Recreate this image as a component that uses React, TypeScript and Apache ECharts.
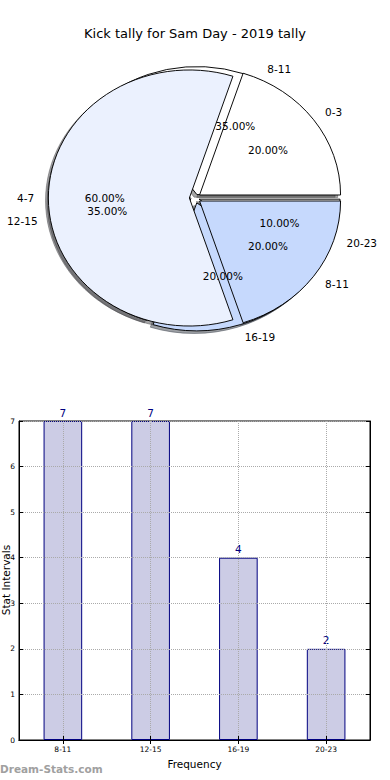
import React, { useEffect, useRef } from "react";
import * as echarts from "echarts";

// ---- data ----
const titleText = "Kick tally for Sam Day - 2019 tally";
const pieTopCats = ["0-3", "4-7", "8-11"];
const pieTopValues = [20, 60, 20];
const pieUnderCats = ["8-11", "12-15", "16-19", "20-23"];
const pieUnderValues = [7, 7, 4, 2];
const barCats = ["8-11", "12-15", "16-19", "20-23"];
const barValues = [7, 7, 4, 2];
const yTicks = [0, 1, 2, 3, 4, 5, 6, 7];
const xAxisName = "Frequency";
const yAxisName = "Stat Intervals";
const watermark = "Dream-Stats.com";

// ---- layout / style ----
const FONT = "DejaVu Sans";
const CX = 195;
const CY = 198;
const RX = 141;
const RY = 128;
const PIE_COLORS = ["#ffffff", "#ebf1fe", "#c6d9fd"];
const TOP_EXPLODE = [0.04, 0.04, 0.04];
const UNDER_EXPLODE = [0.03, 0.03, 0.04, 0.03];

type Geom = { a0: number; a1: number; mid: number; ox: number; oy: number; frac: number };

function geometry(values: number[], explode: number[]): Geom[] {
  const total = values.reduce((s, v) => s + v, 0);
  let acc = 0;
  return values.map((v, i) => {
    const a0 = (acc / total) * Math.PI * 2;
    acc += v;
    const a1 = (acc / total) * Math.PI * 2;
    const mid = (a0 + a1) / 2;
    const e = explode[i] || 0;
    return { a0, a1, mid, ox: e * RX * Math.cos(mid), oy: -e * RY * Math.sin(mid), frac: v / total };
  });
}

function shadeColor(hex: string) {
  const r = parseInt(hex.slice(1, 3), 16) * 0.3;
  const g = parseInt(hex.slice(3, 5), 16) * 0.3;
  const b = parseInt(hex.slice(5, 7), 16) * 0.3;
  return `rgba(${Math.round(r)},${Math.round(g)},${Math.round(b)},0.5)`;
}

function sectorEl(g: Geom, fill: string, stroke: string, dx = 0, dy = 0) {
  return {
    type: "sector",
    x: CX + g.ox + dx,
    y: CY + g.oy + dy,
    scaleX: 1,
    scaleY: RY / RX,
    shape: { cx: 0, cy: 0, r: RX, r0: 0, startAngle: -g.a0, endAngle: -g.a1, clockwise: false },
    style: { fill, stroke, lineWidth: 1 },
  };
}

function wedgeSeries(values: number[], explode: number[], z: number) {
  const geo = geometry(values, explode);
  return {
    type: "custom",
    coordinateSystem: "none",
    z,
    silent: true,
    data: values,
    renderItem: (params: any) => {
      const g = geo[params.dataIndex];
      return sectorEl(g, PIE_COLORS[params.dataIndex % PIE_COLORS.length], "#000");
    },
  };
}

function shadowSeries(values: number[], explode: number[]) {
  const geo = geometry(values, explode);
  return {
    type: "custom",
    coordinateSystem: "none",
    z: 1,
    silent: true,
    data: values,
    renderItem: (params: any) => {
      const g = geo[params.dataIndex];
      const c = shadeColor(PIE_COLORS[params.dataIndex % PIE_COLORS.length]);
      return sectorEl(g, c, c, -0.02 * RX, 0.02 * RY);
    },
  };
}

function labelSeries(values: number[], cats: string[], explode: number[]) {
  const geo = geometry(values, explode);
  return {
    type: "custom",
    coordinateSystem: "none",
    z: 6,
    silent: true,
    data: values,
    renderItem: (params: any) => {
      const g = geo[params.dataIndex];
      const c = Math.cos(g.mid);
      const s = Math.sin(g.mid);
      const lx = CX + g.ox + 1.1 * RX * c;
      const ly = CY + g.oy - 1.1 * RY * s;
      const px = CX + g.ox + 0.6 * RX * c;
      const py = CY + g.oy - 0.6 * RY * s;
      return {
        type: "group",
        children: [
          {
            type: "text",
            x: lx,
            y: ly,
            style: {
              text: cats[params.dataIndex],
              fill: "#000",
              fontSize: 10.5,
              fontFamily: FONT,
              align: c > 0 ? "left" : "right",
              verticalAlign: "middle",
            },
          },
          {
            type: "text",
            x: px,
            y: py,
            style: {
              text: (g.frac * 100).toFixed(2) + "%",
              fill: "#000",
              fontSize: 10.5,
              fontFamily: FONT,
              align: "center",
              verticalAlign: "middle",
            },
          },
        ],
      };
    },
  };
}

export default function App() {
  const ref = useRef<HTMLDivElement>(null);
  useEffect(() => {
    if (!ref.current) return;
    const chart = echarts.init(ref.current, undefined, { renderer: "svg" });
    const axisLineStyle = { color: "#000", width: 1 };
    const gridLine = { show: true, lineStyle: { type: "dotted", color: "#aaaaaa", width: 1 } };
    chart.setOption({
      animation: false,
      backgroundColor: "#fff",
      textStyle: { fontFamily: FONT },
      title: {
        text: titleText,
        left: "center",
        top: 22,
        textStyle: { fontSize: 13, fontWeight: "normal", color: "#000", fontFamily: FONT },
      },
      grid: {
        left: 19,
        right: 20,
        top: 421,
        bottom: 40,
        show: true,
        borderColor: "#000",
        borderWidth: 1,
        containLabel: false,
        outerBoundsMode: "none",
      },
      xAxis: [
        {
          type: "category",
          data: barCats,
          position: "bottom",
          z: 4,
          axisLine: { show: true, lineStyle: axisLineStyle },
          axisTick: { show: true, inside: true, alignWithLabel: true, length: 4, lineStyle: axisLineStyle },
          axisLabel: { fontSize: 7.5, color: "#000", margin: 5, fontFamily: FONT },
          splitLine: { ...gridLine, alignWithLabel: true },
          name: xAxisName,
          nameLocation: "middle",
          nameGap: 18,
          nameTextStyle: { fontSize: 10.5, color: "#000", fontFamily: FONT },
        },
        {
          type: "category",
          data: barCats,
          position: "top",
          z: 4,
          axisLine: { show: true, lineStyle: axisLineStyle },
          axisTick: { show: true, inside: true, alignWithLabel: true, length: 4, lineStyle: axisLineStyle },
          axisLabel: { show: false },
          splitLine: { show: false },
        },
      ],
      yAxis: [
        {
          type: "value",
          min: yTicks[0],
          max: yTicks[yTicks.length - 1],
          interval: 1,
          z: 4,
          axisLine: { show: true, lineStyle: axisLineStyle },
          axisTick: { show: true, inside: true, length: 4, lineStyle: axisLineStyle },
          axisLabel: { fontSize: 7.5, color: "#000", margin: 4, fontFamily: FONT },
          splitLine: gridLine,
        },
        {
          type: "value",
          min: yTicks[0],
          max: yTicks[yTicks.length - 1],
          interval: 1,
          position: "right",
          z: 4,
          axisLine: { show: true, lineStyle: axisLineStyle },
          axisTick: { show: true, inside: true, length: 4, lineStyle: axisLineStyle },
          axisLabel: { show: false },
          splitLine: { show: false },
        },
      ],
      graphic: [
        {
          type: "text",
          x: 6,
          y: 580,
          rotation: Math.PI / 2,
          style: {
            text: yAxisName,
            fill: "#000",
            fontSize: 10.5,
            fontFamily: FONT,
            align: "center",
            verticalAlign: "middle",
          },
        },
        {
          type: "text",
          left: 0,
          top: 763,
          style: { text: watermark, fill: "#a0a0a0", fontSize: 10.5, fontFamily: FONT, fontWeight: "bold" },
        },
      ],
      series: [
        shadowSeries(pieUnderValues, UNDER_EXPLODE),
        shadowSeries(pieTopValues, TOP_EXPLODE),
        wedgeSeries(pieUnderValues, UNDER_EXPLODE, 2),
        wedgeSeries(pieTopValues, TOP_EXPLODE, 3),
        labelSeries(pieUnderValues, pieUnderCats, UNDER_EXPLODE),
        labelSeries(pieTopValues, pieTopCats, TOP_EXPLODE),
        {
          type: "bar",
          data: barValues,
          xAxisIndex: 0,
          yAxisIndex: 0,
          barWidth: "44%",
          z: 2,
          itemStyle: { color: "#ccccE5", borderColor: "#000080", borderWidth: 1 },
          label: { show: true, position: "top", distance: 3, color: "#000080", fontSize: 10.5, fontFamily: FONT },
        },
      ],
    });
    return () => chart.dispose();
  }, []);
  return <div ref={ref} style={{ position: "fixed", left: 0, top: 0, width: 390, height: 780 }} />;
}
